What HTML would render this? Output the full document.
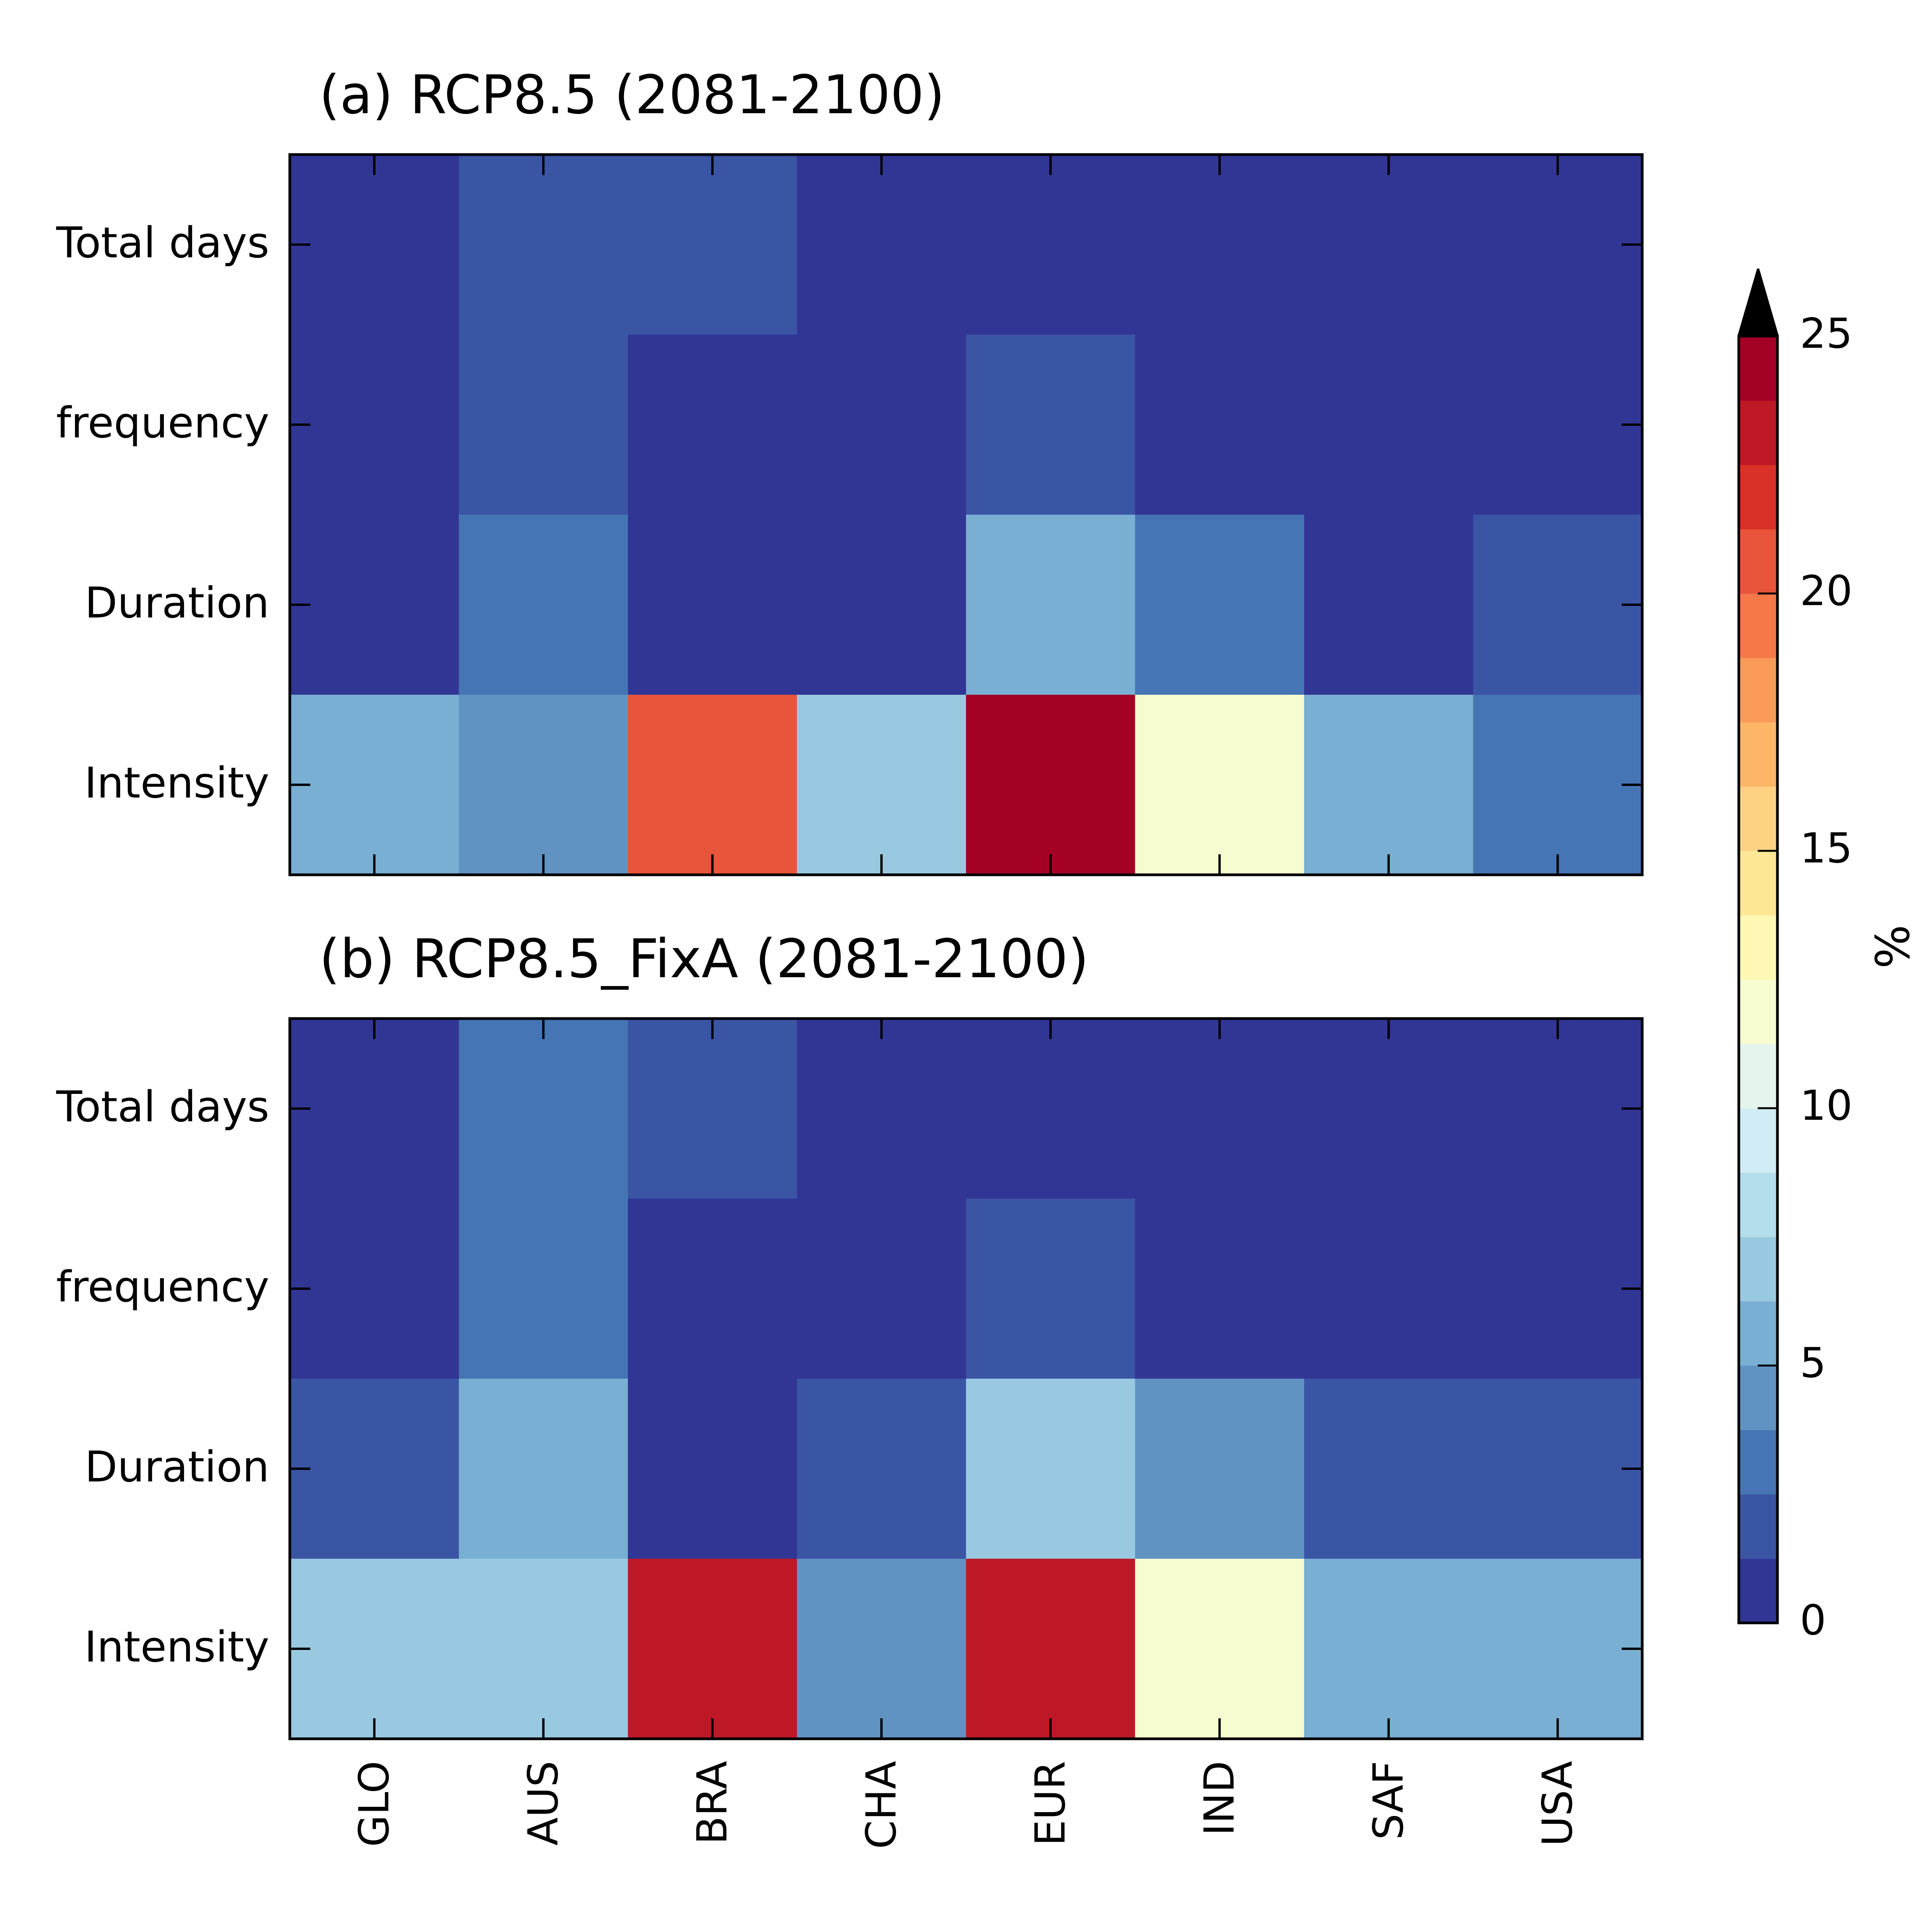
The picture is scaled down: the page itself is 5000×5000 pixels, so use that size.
<!DOCTYPE html>
<html><head><meta charset="utf-8"><style>
html,body{margin:0;padding:0;background:#fff;}
svg{display:block;font-family:"DejaVu Sans","Liberation Sans",sans-serif;}
</style></head><body>
<svg id="chart" width="5000" height="5000" viewBox="0 0 5000 5000" xmlns="http://www.w3.org/2000/svg"></svg>
<script>
const regions = ["GLO","AUS","BRA","CHA","EUR","IND","SAF","USA"];
const metrics = ["Total days","frequency","Duration","Intensity"];
const panelTitles = ["(a) RCP8.5 (2081-2100)","(b) RCP8.5_FixA (2081-2100)"];
const rcp85Values = [
  [0.5,2,2,0.5,0.5,0.5,0.5,0.5],
  [0.5,2,0.5,0.5,2,0.5,0.5,0.5],
  [0.5,3,0.5,0.5,5.5,3,0.5,2],
  [5.5,4.2,20.5,6.8,24.5,12,5.5,3]
];
const fixAValues = [
  [0.5,3,2,0.5,0.5,0.5,0.5,0.5],
  [0.5,3,0.5,0.5,2,0.5,0.5,0.5],
  [2,5.5,0.5,2,6.8,4.2,2,2],
  [6.8,6.8,23.5,4.2,23.5,12,5.5,5.5]
];
const cbarTicks = [0,5,10,15,20,25];
const levelColors = ["#313695","#3b55a5","#4575b4","#6193c2","#78afd2","#98c9e0","#b3ddeb","#d1ecf4","#e6f5ec","#f6fbd0","#fff8b4","#fee794","#fed283","#fdb668","#f99a57","#f67848","#e8553a","#d93127","#be1826","#a50026"];
const vmin = 0, vmax = 25;

const NS = "http://www.w3.org/2000/svg";
const svg = document.getElementById("chart");
function mk(tag, attrs, parent){
  const e = document.createElementNS(NS, tag);
  for (const k in attrs) e.setAttribute(k, attrs[k]);
  (parent||svg).appendChild(e);
  return e;
}
function colorFor(v){
  let i = Math.floor((v - vmin) / (vmax - vmin) * levelColors.length);
  i = Math.max(0, Math.min(levelColors.length - 1, i));
  return levelColors[i];
}
const X0 = 750, X1 = 4250;
const panelTops = [400, 2636];
const PH = 1864;
const colW = (X1 - X0) / regions.length;
function xScale(i){ return X0 + i * colW; }

[rcp85Values, fixAValues].forEach((vals, p) => {
  const top = panelTops[p];
  const rowH = PH / metrics.length;
  const g = mk("g", {});
  
  
  const t = mk("text", {x: 826, y: top - 107, "font-size": 138, fill: "#000", textLength: p===0?1619:1992, lengthAdjust: "spacingAndGlyphs"}, g);
  t.textContent = panelTitles[p];
  
  
  vals.forEach((row, r) => {
    row.forEach((v, c) => {
      const cell = mk("rect", {x: xScale(c), y: top + r*rowH, width: colW + 0.6, height: rowH + 0.6, fill: colorFor(v)}, g);
      
      
    });
  });
  metrics.forEach((m, r) => {
    const cy = top + (r + 0.5) * rowH;
    const lab = mk("text", {x: 697, y: cy + 33, "font-size": 110, "text-anchor": "end", fill: "#000"}, g);
    lab.textContent = m;
    
    
    const tk1 = mk("line", {x1: X0, x2: X0 + 53, y1: cy, y2: cy, stroke: "#000", "stroke-width": 6}, g);
    
    
    const tk2 = mk("line", {x1: X1 - 53, x2: X1, y1: cy, y2: cy, stroke: "#000", "stroke-width": 6}, g);
    
    
  });
  regions.forEach((rg, c) => {
    const cx = xScale(c) + colW / 2;
    const a = mk("line", {x1: cx, x2: cx, y1: top, y2: top + 53, stroke: "#000", "stroke-width": 6}, g);
    
    
    const b = mk("line", {x1: cx, x2: cx, y1: top + PH - 53, y2: top + PH, stroke: "#000", "stroke-width": 6}, g);
    
    
    if (p === 1) {
      const xl = mk("text", {x: 0, y: 0, "font-size": 107, "text-anchor": "end", "dominant-baseline": "central", fill: "#000", transform: `translate(${cx},${top + PH + 57}) rotate(-90)`}, g);
      xl.textContent = rg;
      
      
    }
  });
  const fr = mk("rect", {x: X0, y: top, width: X1 - X0, height: PH, fill: "none", stroke: "#000", "stroke-width": 7}, g);
  
  
});

// colorbar
const CB = {x: 4500, w: 100, top: 870, bot: 4200};
function cbY(v){ return CB.bot - (v - vmin) / (vmax - vmin) * (CB.bot - CB.top); }
const cg = mk("g", {});


levelColors.forEach((col, i) => {
  const v0 = vmin + i * (vmax - vmin) / levelColors.length;
  const v1 = vmin + (i + 1) * (vmax - vmin) / levelColors.length;
  const s = mk("rect", {x: CB.x, y: cbY(v1), width: CB.w, height: cbY(v0) - cbY(v1) + 0.6, fill: col}, cg);
  
  
});
const arrow = mk("polygon", {points: `${CB.x},${CB.top} ${CB.x + CB.w/2},${CB.top - 172} ${CB.x + CB.w},${CB.top}`, fill: "#000", stroke: "#000", "stroke-width": 7, "stroke-linejoin": "round"}, cg);


const cbf = mk("rect", {x: CB.x, y: CB.top, width: CB.w, height: CB.bot - CB.top, fill: "none", stroke: "#000", "stroke-width": 7}, cg);


cbarTicks.forEach(v => {
  const y = cbY(v);
  if (v > vmin && v < vmax) {
    const l = mk("line", {x1: CB.x + CB.w - 51, x2: CB.x + CB.w, y1: y, y2: y, stroke: "#000", "stroke-width": 5}, cg);
    
    
  }
  const tl = mk("text", {x: 4658, y: y + 30, "font-size": 107, fill: "#000"}, cg);
  tl.textContent = String(v);
  
  
});
const unit = mk("text", {x: 0, y: 0, "font-size": 120, "text-anchor": "middle", "dominant-baseline": "central", fill: "#000", transform: "translate(4900,2450) rotate(-90)"}, cg);
unit.textContent = "%";


</script>
</body></html>
